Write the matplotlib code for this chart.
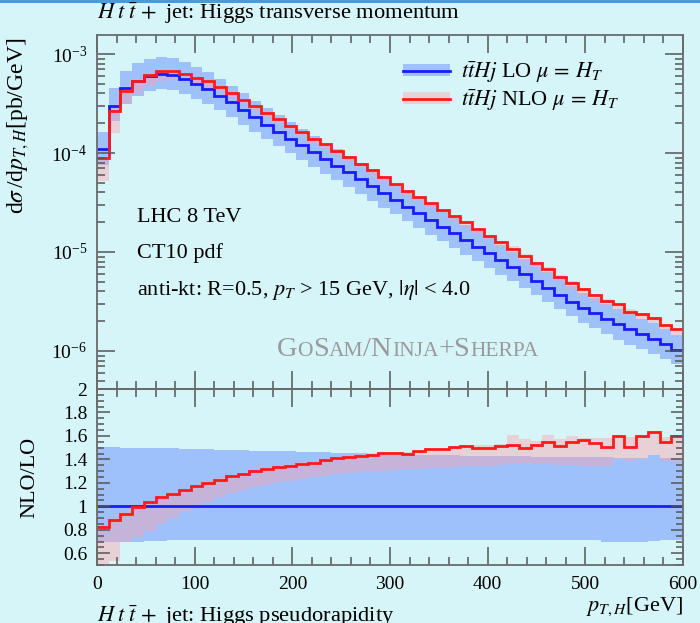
import numpy as np
import matplotlib
matplotlib.use('Agg')
import matplotlib.pyplot as plt
from matplotlib.patches import Patch, Rectangle
from matplotlib.lines import Line2D
from matplotlib.transforms import IdentityTransform
from matplotlib.ticker import (FixedLocator, MultipleLocator, LogLocator,
                               FuncFormatter, NullFormatter)

plt.rcParams['font.family'] = ['Liberation Serif', 'DejaVu Serif']
plt.rcParams['mathtext.fontset'] = 'stix'

# ---------------- data ----------------
bin_edges = list(range(0, 601, 12))

# LO central value, dsigma/dpT [pb/GeV]
lo_xsec = [1.09e-4, 3.00e-4, 4.50e-4, 5.37e-4, 6.00e-4, 6.24e-4, 6.14e-4, 5.55e-4, 4.94e-4, 4.40e-4,
           3.79e-4, 3.24e-4, 2.72e-4, 2.29e-4, 1.94e-4, 1.64e-4, 1.40e-4, 1.20e-4, 1.02e-4, 8.73e-5,
           7.45e-5, 6.37e-5, 5.43e-5, 4.63e-5, 3.96e-5, 3.38e-5, 2.88e-5, 2.47e-5, 2.10e-5, 1.80e-5,
           1.55e-5, 1.32e-5, 1.13e-5, 9.77e-6, 8.32e-6, 7.08e-6, 6.03e-6, 5.13e-6, 4.37e-6, 3.72e-6,
           3.16e-6, 2.72e-6, 2.40e-6, 2.11e-6, 1.86e-6, 1.66e-6, 1.48e-6, 1.32e-6, 1.17e-6, 1.035e-6]

# LO scale band relative to LO central
lo_band_up = [1.505, 1.505, 1.500, 1.500, 1.498, 1.495, 1.493, 1.490, 1.488, 1.485,
              1.483, 1.480, 1.478, 1.475, 1.473, 1.470, 1.468, 1.465, 1.463, 1.460,
              1.458, 1.455, 1.453, 1.450, 1.448, 1.445, 1.443, 1.440, 1.438, 1.436,
              1.434, 1.432, 1.430, 1.428, 1.427, 1.426, 1.425, 1.424, 1.423, 1.422,
              1.420, 1.420, 1.418, 1.417, 1.416, 1.415, 1.415, 1.440, 1.413, 1.412]
lo_band_dn = [0.700, 0.700, 0.700, 0.700, 0.705, 0.705, 0.710, 0.710, 0.710, 0.710,
              0.710, 0.710, 0.710, 0.710, 0.710, 0.710, 0.710, 0.710, 0.710, 0.710,
              0.710, 0.710, 0.710, 0.710, 0.710, 0.710, 0.710, 0.710, 0.710, 0.712,
              0.712, 0.712, 0.712, 0.712, 0.712, 0.712, 0.712, 0.712, 0.712, 0.712,
              0.712, 0.712, 0.710, 0.700, 0.700, 0.700, 0.700, 0.705, 0.712, 0.715]

# NLO / LO central ratio
nlo_ratio = [0.824, 0.886, 0.937, 0.994, 1.034, 1.077, 1.108, 1.136, 1.170, 1.199,
             1.227, 1.256, 1.276, 1.298, 1.318, 1.335, 1.347, 1.364, 1.372, 1.398,
             1.409, 1.420, 1.432, 1.440, 1.452, 1.452, 1.449, 1.469, 1.489, 1.491,
             1.506, 1.514, 1.500, 1.494, 1.511, 1.526, 1.497, 1.526, 1.545, 1.517,
             1.545, 1.568, 1.540, 1.503, 1.602, 1.503, 1.602, 1.634, 1.548, 1.597]
# NLO scale band relative to LO central
nlo_band_up = [0.836, 0.898, 0.949, 1.006, 1.046, 1.089, 1.120, 1.148, 1.182, 1.211,
               1.239, 1.268, 1.288, 1.310, 1.330, 1.347, 1.359, 1.376, 1.384, 1.410,
               1.421, 1.432, 1.444, 1.452, 1.464, 1.464, 1.461, 1.480, 1.500, 1.500,
               1.515, 1.525, 1.520, 1.520, 1.530, 1.610, 1.570, 1.560, 1.610, 1.575,
               1.600, 1.580, 1.585, 1.580, 1.610, 1.590, 1.610, 1.645, 1.590, 1.610]
nlo_band_dn = [0.480, 0.530, 0.700, 0.740, 0.787, 0.850, 0.900, 0.960, 1.000, 1.040,
               1.080, 1.110, 1.140, 1.165, 1.185, 1.205, 1.220, 1.235, 1.250, 1.260,
               1.275, 1.285, 1.290, 1.300, 1.305, 1.310, 1.315, 1.320, 1.325, 1.330,
               1.335, 1.340, 1.345, 1.345, 1.350, 1.360, 1.360, 1.365, 1.360, 1.355,
               1.350, 1.345, 1.340, 1.340, 1.400, 1.390, 1.400, 1.440, 1.390, 1.380]

x_ticks = [0, 100, 200, 300, 400, 500, 600]
ratio_ticks = [0.6, 0.8, 1.0, 1.2, 1.4, 1.6, 1.8, 2.0]

# ---------------- styling ----------------
BG = '#d6f5f8'
BLUE = '#1a1aff'
RED = '#ff1a1a'
BLUE_BAND = (90/255, 130/255, 1.0, 0.45)
PINK_BAND = (1.0, 160/255, 170/255, 0.42)
FRAME = '#6a6a6a'
FS = 14
TFS = 16

W, H = 700, 623
fig = plt.figure(figsize=(W/100, H/100), dpi=100, facecolor=BG)
fig.patches.append(Rectangle((0, 1 - 3/H), 1, 3/H, transform=fig.transFigure,
                             facecolor='#4a9ad8', edgecolor='none'))

L, R = 97, 683
main_top, main_bot, rat_bot = 35, 389, 565
ax = fig.add_axes([L/W, 1 - main_bot/H, (R-L)/W, (main_bot-main_top)/H])
rx = fig.add_axes([L/W, 1 - rat_bot/H, (R-L)/W, (rat_bot-main_bot)/H], sharex=ax)

edges = np.array(bin_edges, dtype=float)
lo = np.array(lo_xsec)
lo_up = lo * np.array(lo_band_up)
lo_dn = lo * np.array(lo_band_dn)
nlo = lo * np.array(nlo_ratio)
nlo_up = lo * np.array(nlo_band_up)
nlo_dn = lo * np.array(nlo_band_dn)

# main panel
ax.stairs(lo_up, edges, baseline=lo_dn, fill=True, color=BLUE_BAND, lw=0)
ax.stairs(nlo_up, edges, baseline=nlo_dn, fill=True, color=PINK_BAND, lw=0)
ax.stairs(lo, edges, color=BLUE, lw=2.0, baseline=None)
ax.stairs(nlo, edges, color=RED, lw=2.0, baseline=None)
ax.set_yscale('log')
ax.set_ylim(10**-6.384, 10**-2.808)
ax.set_xlim(0, 600)

# ratio panel
rx.stairs(lo_up / lo, edges, baseline=lo_dn / lo, fill=True, color=BLUE_BAND, lw=0)
rx.stairs(nlo_up / lo, edges, baseline=nlo_dn / lo, fill=True, color=PINK_BAND, lw=0)
rx.stairs(lo / lo, edges, color=BLUE, lw=2.0, baseline=None)
rx.stairs(nlo / lo, edges, color=RED, lw=2.0, baseline=None)
rx.set_ylim(0.5, 2.0)
rx.set_xlim(0, 600)

for a in (ax, rx):
    a.set_facecolor('none')
    for s in a.spines.values():
        s.set_color(FRAME)
        s.set_linewidth(1.3)
    a.tick_params(which='both', direction='in', top=True, right=True,
                  color='#555555', width=1.1, labelsize=FS)
    a.tick_params(which='major', length=13)
    a.tick_params(which='minor', length=6)
    a.xaxis.set_major_locator(FixedLocator(x_ticks))
    a.xaxis.set_minor_locator(MultipleLocator(20))

ax.yaxis.set_major_locator(LogLocator(base=10, numticks=10))
ax.yaxis.set_minor_locator(LogLocator(base=10, subs=np.arange(2, 10), numticks=20))
ax.yaxis.set_minor_formatter(NullFormatter())
ax.tick_params(axis='x', labelbottom=False)
ax.tick_params(axis='y', pad=7)

rx.yaxis.set_major_locator(FixedLocator(ratio_ticks))
rx.yaxis.set_minor_locator(MultipleLocator(0.05))
rx.yaxis.set_major_formatter(FuncFormatter(lambda v, p: f'{v:g}'))
rx.tick_params(axis='y', which='major', length=9, pad=7)
rx.tick_params(axis='y', which='minor', length=5)
rx.tick_params(axis='x', pad=8)

# legend
h_lo = (Patch(facecolor=BLUE_BAND, edgecolor='none'), Line2D([], [], color=BLUE, lw=2))
h_nlo = (Patch(facecolor=PINK_BAND, edgecolor='none'), Line2D([], [], color=RED, lw=2))
ax.legend([h_lo, h_nlo],
          [r'$t\bar{t}Hj$ LO $\mu\, =\, H_T$', r'$t\bar{t}Hj$ NLO $\mu\, =\, H_T$'],
          loc='upper left', bbox_to_anchor=((403-L)/(R-L), 1 - (59-main_top)/(main_bot-main_top)),
          frameon=False, fontsize=TFS, handlelength=2.1, handleheight=0.45,
          handletextpad=0.5, labelspacing=0.1, borderpad=0, borderaxespad=0)

# annotations
def axpos(px, py):
    return ((px - L)/(R - L), 1 - (py - main_top)/(main_bot - main_top))

ax.text(*axpos(137, 218), 'LHC 8 TeV', fontsize=TFS, va='center', transform=ax.transAxes)
ax.text(*axpos(137, 253), 'CT10 pdf', fontsize=TFS, va='center', transform=ax.transAxes)
ax.text(*axpos(137, 290), r'anti-kt: R=0.5, $p_T$ > 15 GeV, $|\eta|$ < 4.0',
        fontsize=TFS, va='center', transform=ax.transAxes)

fig.text(L/W, 1 - 13/H, r'$H\;t\;\bar{t}\,+$ jet: Higgs transverse momentum',
         fontsize=16.2, va='center', ha='left')
fig.text(L/W, 7/H, r'$H\;t\;\bar{t}\,+$ jet: Higgs pseudorapidity',
         fontsize=16.2, va='center', ha='left')
fig.text(R/W, 1 - 607/H, r'$p_{T,H}$[GeV]', fontsize=TFS, va='center', ha='right')
fig.text(18/W, 1 - 126/H, r'd$\sigma\,$/d$p_{T,H}$[pb/GeV]', fontsize=17,
         rotation=90, va='center', ha='center')
fig.text(30/W, 1 - 477/H, 'NLO/LO', fontsize=TFS, rotation=90, va='center', ha='center')

# small-caps signature
fig.canvas.draw()
renderer = fig.canvas.get_renderer()
pieces = [('G', 20.5), ('O', 15.5), ('S', 20.5), ('AM', 15.5), ('/N', 20.5), ('INJA', 15.5),
          ('+S', 20.5), ('HERPA', 15.5)]
xcur, ybase = 277, H - 356
for s, fs in pieces:
    t = fig.text(xcur, ybase, s, fontsize=fs, color='#9a9a9a', va='baseline',
                 ha='left', transform=IdentityTransform())
    xcur += t.get_window_extent(renderer).width

fig.savefig('out.png', dpi=100, facecolor=BG)
